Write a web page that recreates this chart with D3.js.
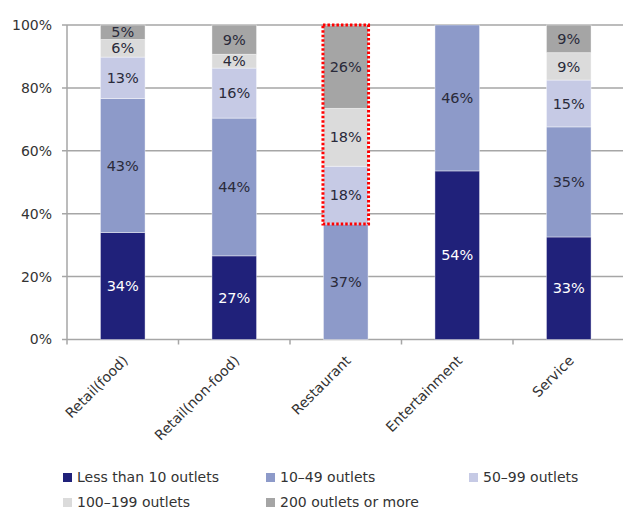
<!DOCTYPE html>
<html>
<head>
<meta charset="utf-8">
<script src="https://cdn.jsdelivr.net/npm/d3@7"></script>
<style>
  html, body { margin: 0; padding: 0; background: #fff; }
  svg { display: block; font-family: Verdana, "DejaVu Sans", sans-serif; }
</style>
</head>
<body>
<svg id="chart" width="623" height="509"></svg>
<script>
// Share of companies by number of outlets, per industry (percent)
const categories = ["Retail(food)", "Retail(non-food)", "Restaurant", "Entertainment", "Service"];
const seriesNames = ["Less than 10 outlets", "10\u201349 outlets", "50\u201399 outlets", "100\u2013199 outlets", "200 outlets or more"];
const lessThan10 = [34.0, 26.6, 0, 53.6, 32.6];
const from10to49 = [42.6, 43.8, 36.7, 46.4, 35.0];
const from50to99 = [13.2, 15.9, 18.4, 0, 14.9];
const from100to199 = [5.6, 4.4, 18.4, 0, 8.7];
const over200 = [4.6, 9.3, 26.4, 0, 8.8];
const yTicks = [0, 20, 40, 60, 80, 100];
const highlighted = "Restaurant";

const seriesValues = [lessThan10, from10to49, from50to99, from100to199, over200];
const colors = ["#20217a", "#8d9ac9", "#c6cae5", "#dbdbdb", "#a5a5a5"];
const labelColors = ["#ffffff", "#2a2a3a", "#2a2a3a", "#2a2a3a", "#2a2a3a"];

const svg = d3.select("#chart");
const plotLeft = 67, plotRight = 624.5, plotTop = 25, plotBottom = 339.5;

const x = d3.scaleBand().domain(categories).range([plotLeft, plotRight]).paddingInner(0.6).paddingOuter(0.3);
const y = d3.scaleLinear().domain([0, 100]).range([plotBottom, plotTop]);

// Build the stacked rows
const rows = categories.map((c, i) => {
  const r = { category: c };
  seriesNames.forEach((s, k) => { r[s] = seriesValues[k][i]; });
  return r;
});
const stacked = d3.stack().keys(seriesNames)(rows);

// Horizontal gridlines
svg.append("g").selectAll("line").data(yTicks).join("line")
  .attr("x1", plotLeft - 5).attr("x2", plotRight)
  .attr("y1", d => y(d)).attr("y2", d => y(d))
  .attr("stroke", "#a6a6a6").attr("stroke-width", 1.5);

// Y axis labels
svg.append("g").selectAll("text").data(yTicks).join("text")
  .attr("x", plotLeft - 15).attr("y", d => y(d)).attr("dy", "0.35em")
  .attr("text-anchor", "end").attr("font-size", 14).attr("fill", "#333")
  .text(d => d + "%");

// Bars
const layer = svg.append("g").selectAll("g").data(stacked).join("g")
  .attr("fill", (d, i) => colors[i]);
layer.selectAll("rect").data(d => d.filter(p => p[1] - p[0] > 0)).join("rect")
  .attr("x", d => x(d.data.category))
  .attr("width", x.bandwidth())
  .attr("y", d => y(d[1]))
  .attr("height", d => y(d[0]) - y(d[1]))
  .attr("stroke", "#ffffff").attr("stroke-opacity", 0.5).attr("stroke-width", 0.8);

// Segment value labels
stacked.forEach((s, i) => {
  svg.append("g").selectAll("text").data(s.filter(p => p[1] - p[0] > 0)).join("text")
    .attr("x", d => x(d.data.category) + x.bandwidth() / 2)
    .attr("y", d => y((d[0] + d[1]) / 2)).attr("dy", "0.36em")
    .attr("text-anchor", "middle").attr("font-size", 14.5)
    .attr("fill", labelColors[i])
    .text(d => Math.round(d[1] - d[0]) + "%");
});

// Axes lines and ticks
svg.append("line").attr("x1", plotLeft).attr("x2", plotLeft).attr("y1", plotTop).attr("y2", plotBottom)
  .attr("stroke", "#a6a6a6").attr("stroke-width", 1.5);
const edges = categories.map(c => x(c) - x.step() * x.paddingInner() / 2).concat([plotRight]);
edges[0] = plotLeft;
svg.append("g").selectAll("line").data(edges).join("line")
  .attr("x1", d => d).attr("x2", d => d).attr("y1", plotBottom).attr("y2", plotBottom + 5)
  .attr("stroke", "#a6a6a6").attr("stroke-width", 1.5);

// Category labels, rotated
svg.append("g").selectAll("text").data(categories).join("text")
  .attr("transform", c => `translate(${x(c) + x.bandwidth() / 2 + 6},${plotBottom + 22}) rotate(-45)`)
  .attr("text-anchor", "end").attr("font-size", 14).attr("fill", "#333")
  .text(c => c);

// Dotted highlight around the upper part of the restaurant bar
const hiIdx = categories.indexOf(highlighted);
const hiBase = stacked[1][hiIdx][1];
svg.append("rect")
  .attr("x", x(highlighted) - 0.5).attr("width", x.bandwidth() + 1)
  .attr("y", y(100)).attr("height", y(hiBase) - y(100))
  .attr("fill", "none").attr("stroke", "#ff0000").attr("stroke-width", 3)
  .attr("stroke-dasharray", "2.5,2");

// Legend
const legendPos = [[63, 473], [266, 473], [469, 473], [63, 498], [266, 498]];
const legend = svg.append("g").selectAll("g").data(seriesNames).join("g")
  .attr("transform", (d, i) => `translate(${legendPos[i][0]},${legendPos[i][1]})`);
legend.append("rect").attr("width", 9).attr("height", 9).attr("fill", (d, i) => colors[i]);
legend.append("text").attr("x", 14).attr("y", 8.5)
  .attr("font-size", 14).attr("fill", "#333").text(d => d);
</script>
</body>
</html>
